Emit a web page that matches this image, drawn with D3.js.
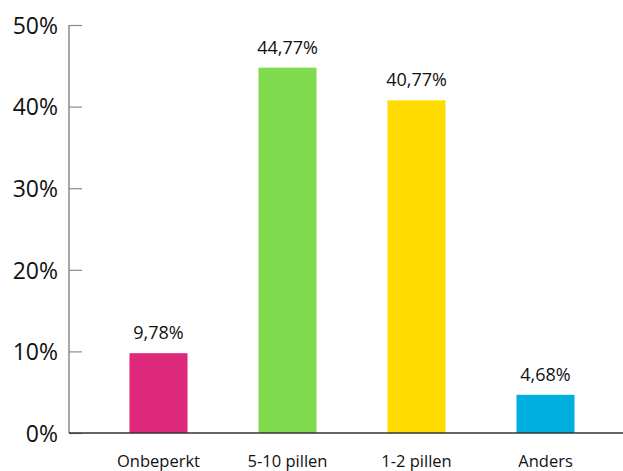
<!DOCTYPE html>
<html>
<head>
<meta charset="utf-8">
<script src="https://cdn.jsdelivr.net/npm/d3@7"></script>
<style>
  html, body { margin: 0; padding: 0; background: #fff; }
  svg { display: block; font-family: "Open Sans", "Noto Sans", sans-serif; }
</style>
</head>
<body>
<svg id="chart" width="623" height="471"></svg>
<script>
const categories = ["Onbeperkt", "5-10 pillen", "1-2 pillen", "Anders"];
const values = [9.78, 44.77, 40.77, 4.68];
const colors = ["#de287b", "#80db4e", "#ffdc00", "#00aee0"];
const yTicks = [0, 10, 20, 30, 40, 50];

const svg = d3.select("#chart");
const axisX = 69, baseY = 433, topY = 25;

const x = d3.scaleBand()
  .domain(categories)
  .range([94, 610])
  .paddingInner(0.55)
  .paddingOuter(0.275);

const y = d3.scaleLinear().domain([0, 50]).range([baseY, topY]);

const fmt = v => v.toFixed(2).replace(".", ",") + "%";

// bars
svg.selectAll("rect.bar")
  .data(values)
  .join("rect")
  .attr("class", "bar")
  .attr("x", (d, i) => x(categories[i]))
  .attr("width", x.bandwidth())
  .attr("y", d => y(d))
  .attr("height", d => baseY - y(d))
  .attr("fill", (d, i) => colors[i]);

// value labels
svg.selectAll("text.val")
  .data(values)
  .join("text")
  .attr("class", "val")
  .attr("x", (d, i) => x(categories[i]) + x.bandwidth() / 2)
  .attr("y", d => y(d) - 14)
  .attr("text-anchor", "middle")
  .attr("font-size", 18)
  .attr("fill", "#111")
  .text(fmt);

// y axis
const yAxis = d3.axisRight(y)
  .tickValues(yTicks)
  .tickSize(13)
  .tickFormat(d => d + "%");
const gy = svg.append("g").attr("transform", `translate(${axisX},0)`).call(yAxis);
gy.select(".domain").attr("stroke", "#8a8a8a").attr("stroke-width", 1.5)
  .attr("d", `M0,${topY}V${baseY}`);
gy.selectAll(".tick line").attr("stroke", "#8a8a8a").attr("stroke-width", 1.2);
gy.selectAll(".tick text")
  .attr("x", -11)
  .attr("dy", "0.36em")
  .attr("text-anchor", "end")
  .attr("font-size", 23)
  .attr("font-family", "'Open Sans', 'Noto Sans', sans-serif")
  .attr("fill", "#111");

// x axis
const xAxis = d3.axisBottom(x).tickSize(0);
const gx = svg.append("g").attr("transform", `translate(0,${baseY})`).call(xAxis);
gx.select(".domain").attr("stroke", "#333").attr("stroke-width", 1.5)
  .attr("d", `M${axisX},0H623`);
gx.selectAll(".tick text")
  .attr("y", 34)
  .attr("dy", 0)
  .attr("font-size", 16.5)
  .attr("font-family", "'Open Sans', 'Noto Sans', sans-serif")
  .attr("fill", "#111");
</script>
</body>
</html>
